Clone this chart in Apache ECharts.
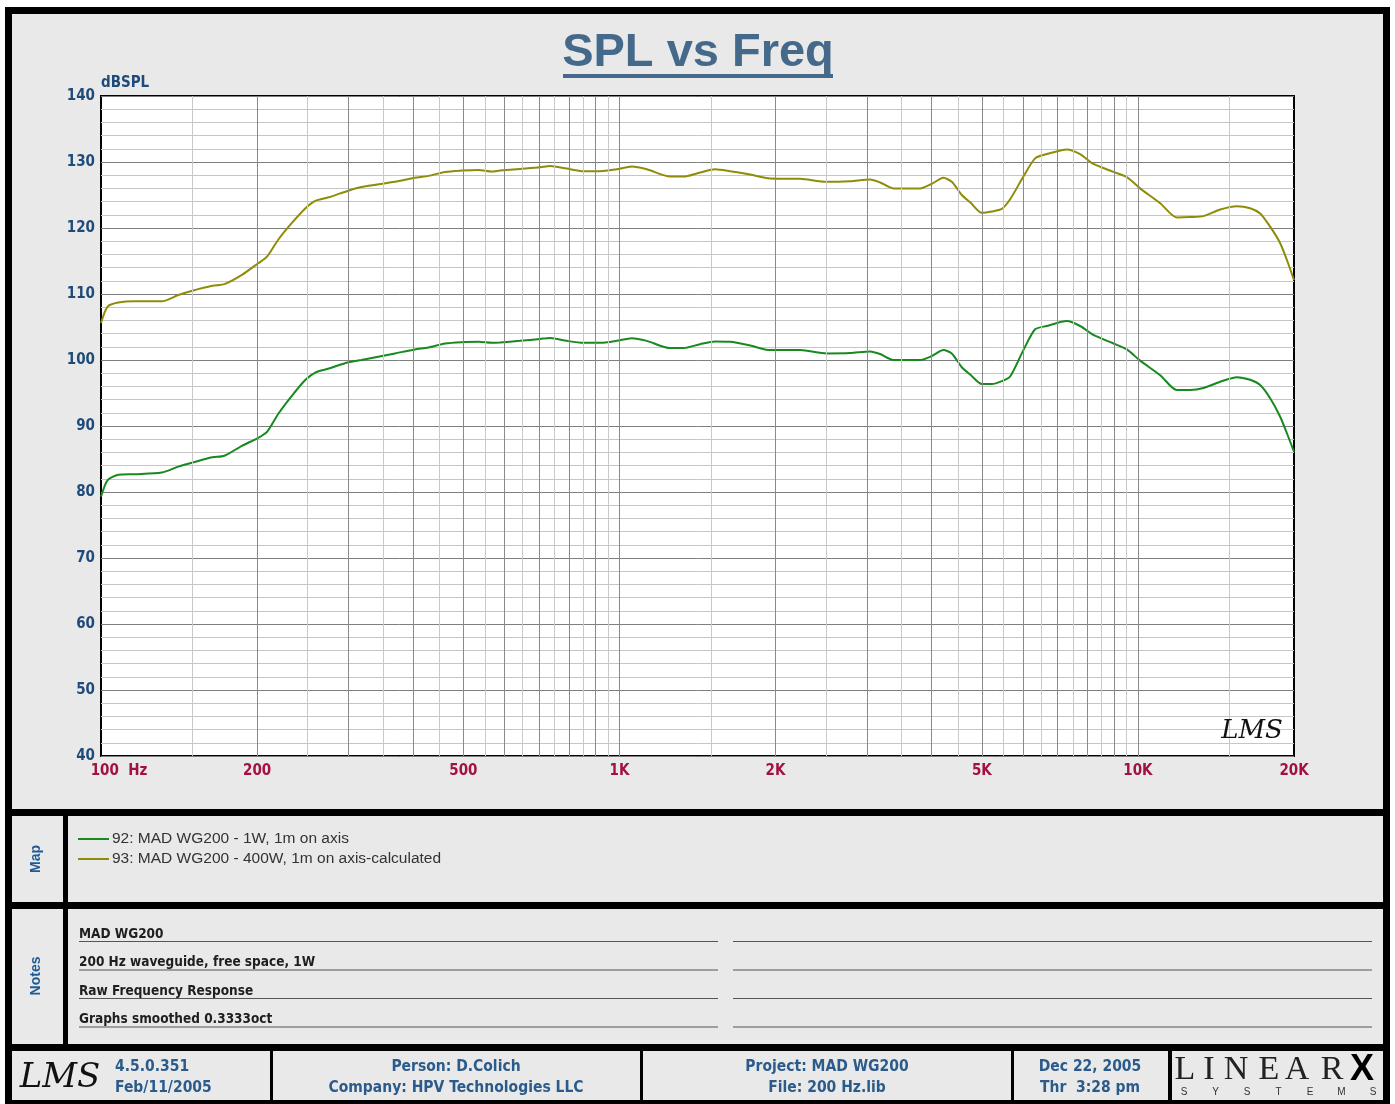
<!DOCTYPE html>
<html>
<head>
<meta charset="utf-8">
<title>SPL vs Freq</title>
<script src="https://cdn.jsdelivr.net/npm/echarts@6.0.0/dist/echarts.min.js"></script>
<style>
  html, body { margin: 0; padding: 0; background: #fff; }
  #main { width: 1395px; height: 1104px; }
</style>
</head>
<body>
<div id="main"></div>
<script>
// frequency points (Hz)
const freqHz = [
  100, 103, 108, 116, 131, 141, 150, 164, 173, 187,
  201, 209, 220, 233, 248, 259, 275, 300, 318, 369,
  403, 428, 461, 496, 535, 567, 588, 643, 703, 735,
  791, 852, 918, 988, 1056, 1129, 1252, 1328, 1431, 1529,
  1635, 1786, 1952, 2230, 2510, 2785, 3044, 3182, 3376, 3800,
  4004, 4215, 4375, 4574, 4747, 5000, 5226, 5464, 5669, 6013,
  6335, 6673, 7292, 7735, 8206, 8971, 9519, 10098, 11040, 11885,
  12610, 13380, 14410, 15520, 16460, 17210, 17990, 18810, 19380, 20000
];
// 92: 1W, 1m on axis
const spl1W = [
  79.3, 81.8, 82.6, 82.7, 82.95, 83.85, 84.45, 85.25, 85.5, 87.0,
  88.2, 89.1, 91.9, 94.5, 97.0, 98.1, 98.7, 99.65, 100.0, 101.0,
  101.6, 101.9, 102.5, 102.7, 102.75, 102.6, 102.65, 102.9, 103.2, 103.35,
  102.9, 102.6, 102.6, 102.9, 103.3, 102.9, 101.8, 101.8, 102.4, 102.8,
  102.75, 102.2, 101.5, 101.5, 101.0, 101.05, 101.3, 100.9, 100.0, 100.0,
  100.6, 101.5, 101.0, 98.9, 97.8, 96.35, 96.35, 96.8, 97.5, 101.5,
  104.65, 105.15, 105.9, 105.15, 103.8, 102.5, 101.6, 99.9, 97.7, 95.45,
  95.45, 95.75, 96.7, 97.4, 97.0, 96.2, 94.2, 91.4, 88.9, 86.1
];
// 93: 400W, 1m on axis-calculated
const spl400W = [
  105.6, 108.1, 108.7, 108.9, 108.9, 109.85, 110.5, 111.25, 111.5, 112.9,
  114.65, 115.65, 118.3, 120.7, 123.0, 124.1, 124.65, 125.65, 126.2, 127.0,
  127.6, 127.9, 128.5, 128.7, 128.8, 128.55, 128.7, 128.95, 129.2, 129.4,
  129.0, 128.6, 128.6, 128.9, 129.3, 128.9, 127.8, 127.8, 128.4, 128.9,
  128.6, 128.1, 127.5, 127.45, 127.0, 127.1, 127.35, 126.9, 126.0, 126.0,
  126.7, 127.6, 127.0, 125.0, 123.9, 122.3, 122.5, 122.9, 124.35, 127.8,
  130.55, 131.2, 131.9, 131.2, 129.7, 128.5, 127.7, 126.0, 123.75, 121.6,
  121.65, 121.8, 122.8, 123.3, 123.0, 122.2, 120.2, 117.7, 115.15, 112.1
];

const seriesNames = ['92: MAD WG200 - 1W, 1m on axis', '93: MAD WG200 - 400W, 1m on axis-calculated'];

// x tick labels
const xTickFreqs = [100, 200, 500, 1000, 2000, 5000, 10000, 20000];
const xTickLabels = ['100  Hz', '200', '500', '1K', '2K', '5K', '10K', '20K'];
// vertical grid lines
const gridMajor = [200, 300, 400, 500, 600, 700, 800, 900, 1000, 2000, 3000, 4000, 5000, 6000, 7000, 8000, 9000, 10000];
const gridMinor = [150, 250, 350, 450, 550, 650, 750, 850, 950, 1500, 2500, 3500, 4500, 5500, 6500, 7500, 8500, 9500, 15000];

const notesText = ['MAD WG200', '200 Hz waveguide, free space, 1W', 'Raw Frequency Response', 'Graphs smoothed 0.3333oct'];

const NARROW = '"Liberation Sans Narrow", "Arial Narrow", "DejaVu Sans Condensed", "Liberation Sans", sans-serif';
const PANEL = '#e9e9e9';
const BLUE = '#2b5b8a';
const AXISBLUE = '#1f4b7a';
const RED = '#a3123f';

const chart = echarts.init(document.getElementById('main'));

function box(x, y, w, h, fill, z) {
  return { type: 'rect', z: z == null ? -100 : z, silent: true, shape: { x: x, y: y, width: w, height: h }, style: { fill: fill } };
}
function txt(x, y, text, opts) {
  return {
    type: 'text', z: 100, silent: true, x: x, y: y,
    style: Object.assign({ text: text, fill: BLUE, fontFamily: NARROW, fontWeight: 'bold', fontSize: 15.5, align: 'left', verticalAlign: 'middle' }, opts || {})
  };
}

const graphics = [
  box(5, 7, 1385, 1097, '#000', -110),
  box(12, 14, 1371, 795, PANEL),
  box(12, 816, 51, 86, PANEL),
  box(68, 816, 1315, 86, PANEL),
  box(12, 909, 51, 135, PANEL),
  box(68, 909, 1315, 135, PANEL),
  box(12, 1051, 258, 49, PANEL),
  box(273, 1051, 367, 49, PANEL),
  box(643, 1051, 368, 49, PANEL),
  box(1014, 1051, 154, 49, PANEL),
  box(1172, 1051, 211, 49, PANEL),
  // title
  txt(698, 53, 'SPL vs Freq', { fill: '#45698a', fontFamily: '"Liberation Sans", Arial, sans-serif', fontSize: 47, align: 'center' }),
  box(563, 74, 270, 4, '#45698a', 100),
  // side labels
  Object.assign(txt(36, 859, 'Map', { fontSize: 14, align: 'center', fill: '#1f5a96', fontFamily: '"Liberation Sans", Arial, sans-serif' }), { rotation: Math.PI / 2 }),
  Object.assign(txt(36, 976, 'Notes', { fontSize: 14, align: 'center', fill: '#1f5a96', fontFamily: '"Liberation Sans", Arial, sans-serif' }), { rotation: Math.PI / 2 }),
  // footer
  txt(115, 1067, '4.5.0.351'),
  txt(115, 1088, 'Feb/11/2005'),
  txt(456, 1067, 'Person: D.Colich', { align: 'center' }),
  txt(456, 1088, 'Company: HPV Technologies LLC', { align: 'center' }),
  txt(827, 1067, 'Project: MAD WG200', { align: 'center' }),
  txt(827, 1088, 'File: 200 Hz.lib', { align: 'center' }),
  txt(1090, 1067, 'Dec 22, 2005', { align: 'center' }),
  txt(1090, 1088, 'Thr  3:28 pm', { align: 'center' }),
  // LMS marks
  txt(60, 1078, 'LMS', { fill: '#111', fontFamily: '"DejaVu Serif", serif', fontStyle: 'italic', fontWeight: 'normal', fontSize: 34, align: 'center' }),
  txt(1252, 731, 'LMS', { fill: '#111', fontFamily: '"DejaVu Serif", serif', fontStyle: 'italic', fontWeight: 'normal', fontSize: 26, align: 'center' })
];

// notes lines
notesText.forEach(function (t, i) {
  const ly = 941 + i * 28.5;
  graphics.push(txt(79, ly, t, { fill: '#1e1e1e', fontSize: 13.5, verticalAlign: 'bottom' }));
  graphics.push(box(79, ly, 639, 1, '#555', 90));
  graphics.push(box(733, ly, 639, 1, '#555', 90));
});

// LINEAR X logo
const linearX = [1185, 1209, 1236, 1269, 1297, 1332];
'LINEAR'.split('').forEach(function (ch, i) {
  graphics.push(txt(linearX[i], 1070, ch, { fill: '#222', fontFamily: '"Liberation Serif", serif', fontWeight: 'normal', fontSize: 34, align: 'center' }));
});
graphics.push(txt(1362, 1070, 'X', { fill: '#000', fontFamily: '"Liberation Sans", Arial, sans-serif', fontWeight: 900, fontSize: 36, align: 'center' }));
'SYSTEMS'.split('').forEach(function (ch, i) {
  graphics.push(txt(1184 + i * 31.5, 1092, ch, { fill: '#333', fontFamily: '"Liberation Sans", Arial, sans-serif', fontWeight: 'normal', fontSize: 10, align: 'center' }));
});

const gridMarks = gridMajor.map(function (f) {
  return { xAxis: f, lineStyle: { color: '#8a8a8a', width: 1, type: 'solid' } };
}).concat(gridMinor.map(function (f) {
  return { xAxis: f, lineStyle: { color: '#c9c9c9', width: 1, type: 'solid' } };
}));

const tickMarks = xTickFreqs.map(function (f, i) {
  return {
    xAxis: f,
    label: {
      show: true, position: 'start', distance: 8, formatter: xTickLabels[i],
      color: RED, fontWeight: 'bold', fontSize: 15, fontFamily: NARROW,
      padding: i === 0 ? [0, 0, 0, 36] : 0
    }
  };
});

const option = {
  animation: false,
  backgroundColor: '#fff',
  graphic: graphics,
  grid: {
    left: 101, top: 96, width: 1193, height: 660,
    show: true, backgroundColor: '#fff', borderColor: '#000', borderWidth: 2
  },
  legend: {
    left: 78, top: 831, padding: 0, orient: 'vertical', icon: 'rect',
    itemWidth: 31, itemHeight: 2, itemGap: 4, selectedMode: false,
    textStyle: { color: '#333', fontSize: 15.5, lineHeight: 16, fontFamily: '"Liberation Sans", Arial, sans-serif', padding: [0, 0, 0, -2] },
    data: seriesNames
  },
  xAxis: {
    type: 'log', logBase: 10, min: 100, max: 20000,
    axisLine: { show: false }, axisTick: { show: false },
    axisLabel: { show: false }, splitLine: { show: false }
  },
  yAxis: {
    type: 'value', min: 40, max: 140, interval: 10,
    name: 'dBSPL', nameLocation: 'end', nameGap: 5,
    nameTextStyle: { color: AXISBLUE, fontWeight: 'bold', fontSize: 15, fontFamily: NARROW, align: 'left', verticalAlign: 'bottom' },
    axisLine: { show: false }, axisTick: { show: false },
    axisLabel: { color: AXISBLUE, fontWeight: 'bold', fontSize: 15, fontFamily: NARROW, margin: 6 },
    splitLine: { lineStyle: { color: '#7f7f7f', width: 1 } },
    minorTick: { show: false, splitNumber: 5 },
    minorSplitLine: { show: true, lineStyle: { color: '#c6c6c6', width: 1 } }
  },
  series: [
    {
      name: 'grid', type: 'line', z: 1, data: [], silent: true,
      markLine: { silent: true, symbol: ['none', 'none'], label: { show: false }, emphasis: { disabled: true }, data: gridMarks }
    },
    {
      name: 'ticks', type: 'line', z: 1, data: [], silent: true,
      markLine: {
        silent: true, symbol: ['none', 'none'], emphasis: { disabled: true },
        lineStyle: { width: 0, color: 'rgba(0,0,0,0)' },
        data: tickMarks
      }
    },
    {
      name: seriesNames[0], type: 'line', z: 3, showSymbol: false, smooth: 0.25,
      color: '#17891f', lineStyle: { width: 2 },
      data: freqHz.map(function (f, i) { return [f, spl1W[i]]; })
    },
    {
      name: seriesNames[1], type: 'line', z: 3, showSymbol: false, smooth: 0.25,
      color: '#8e8c08', lineStyle: { width: 2 },
      data: freqHz.map(function (f, i) { return [f, spl400W[i]]; })
    }
  ]
};

chart.setOption(option);
</script>
</body>
</html>
